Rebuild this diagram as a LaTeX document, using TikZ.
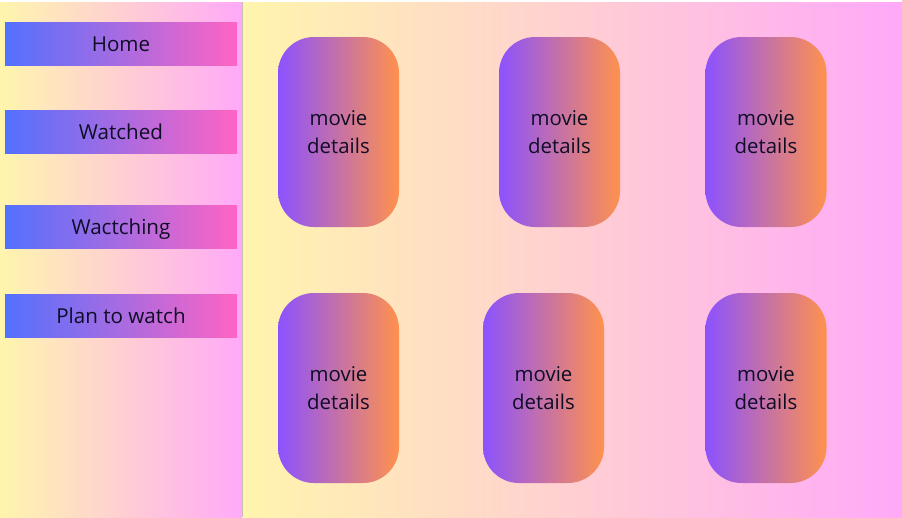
\documentclass[tikz,border=0pt]{standalone}
\usepackage{fontspec}
\setmainfont{Open Sans}
\definecolor{bgyel}{HTML}{FFF5AD}
\definecolor{bgpink}{HTML}{FFA9F8}
\definecolor{btnblue}{HTML}{5271FF}
\definecolor{btnpink}{HTML}{FF64C3}
\definecolor{cardpurple}{HTML}{8C52FF}
\definecolor{cardorange}{HTML}{FF914D}
\definecolor{txt}{HTML}{0F0D26}
\definecolor{sep}{HTML}{C8C0B8}
\tikzset{
  btn/.style={inner sep=0pt, minimum width=232pt, minimum height=43pt,
    left color=btnblue, right color=btnpink, text=txt,
    text height=15pt, text depth=0pt,
    font=\fontsize{20.6}{24}\selectfont},
  card/.style={inner sep=0pt, minimum width=121pt, minimum height=190pt,
    rounded corners=36pt, left color=cardpurple, right color=cardorange,
    text=txt, align=center, font=\fontsize{20.4}{28}\selectfont},
}
\begin{document}
\begin{tikzpicture}[x=1pt,y=-1pt]
\useasboundingbox (0,0) rectangle (902,517);
\fill[white] (0,0) rectangle (902,517);
\shade[left color=bgyel, right color=bgpink] (0,2) rectangle (242,517);
\shade[left color=bgyel, right color=bgpink] (243,2) rectangle (902,517);
\draw[sep, line width=1pt] (242.5,2) -- (242.5,517);
\node[btn] (home) at (121,43.5) {Home};
\node[btn] (watched) at (121,132) {Watched};
\node[btn] (watching) at (121,226.5) {Wactching};
\node[btn] (plan) at (121,315.5) {Plan to watch};
\node[card] (c1) at (338.5,132) {movie\\details};
\node[card] (c2) at (559.5,132) {movie\\details};
\node[card] (c3) at (766,132) {movie\\details};
\node[card] (c4) at (338.5,388) {movie\\details};
\node[card] (c5) at (543.5,388) {movie\\details};
\node[card] (c6) at (766,388) {movie\\details};
\end{tikzpicture}
\end{document}
